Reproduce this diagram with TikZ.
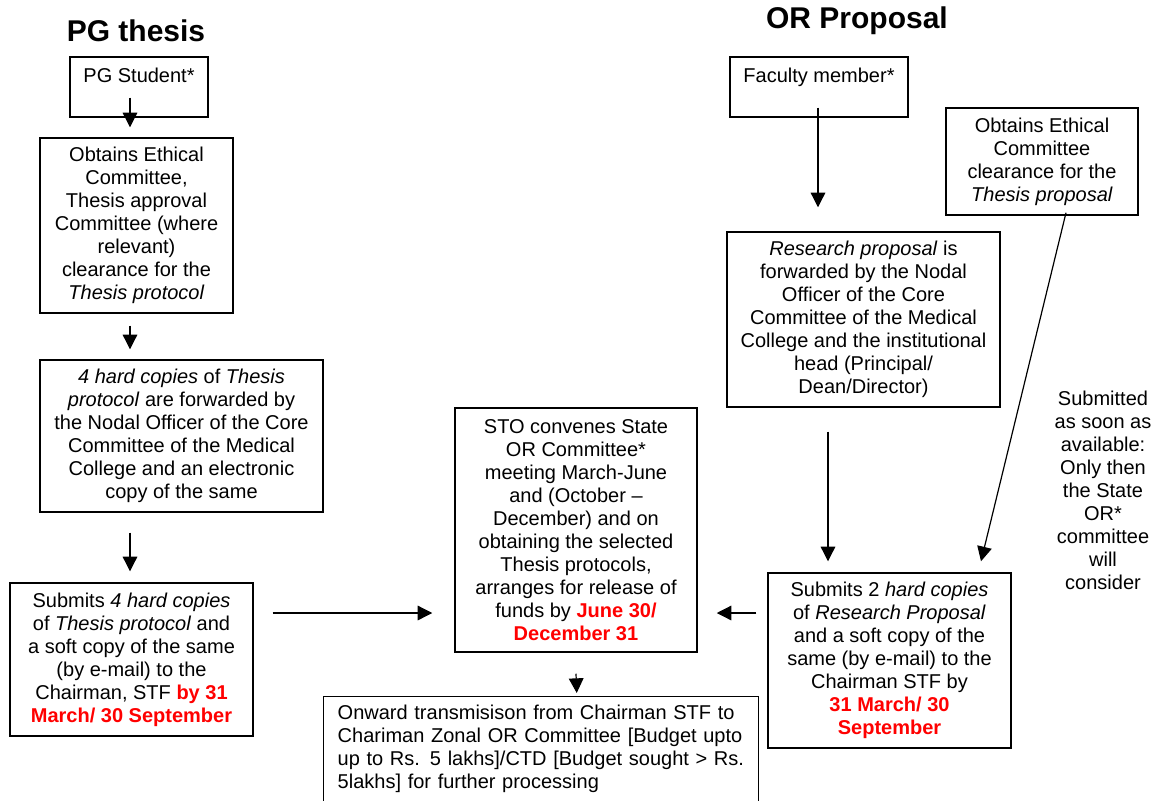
\documentclass[tikz,border=0pt]{standalone}
\usepackage{fontspec}
\setmainfont{Liberation Sans}
\usetikzlibrary{arrows.meta}

\tikzset{
  box/.style={draw,line width=1.1pt,align=center,inner sep=0pt},
  flow/.style={-{Triangle[length=11pt,width=11pt]},line width=0.9pt},
  heading/.style={anchor=base,font=\fontsize{22.5}{27}\selectfont\bfseries},
}
\newcommand{\due}[1]{\textcolor{red}{\textbf{#1}}}

\begin{document}
\begin{tikzpicture}[x=0.75pt,y=-0.75pt,font=\fontsize{15}{17.25}\selectfont]
    \useasboundingbox (0,0) rectangle (1153,800);

    % Column titles
    \node [heading] (pgtitle) at (136,41) {PG thesis};
    \node [heading] (ortitle) at (857,28) {OR Proposal};

    % PG thesis column
    \node [box,minimum width=103.5pt,minimum height=45pt] (pgstu) at (139,87) {PG Student*\\ ~};
    \node [box,minimum width=144.75pt,minimum height=131.25pt] (pgethic) at (136.5,225.5)
        {Obtains Ethical\\ Committee,\\ Thesis approval\\ Committee (where\\ relevant)\\ clearance for the\\ \textit{Thesis protocol}};
    \node [box,minimum width=212.25pt,minimum height=114pt] (pgcopies) at (181.5,436)
        {\textit{4 hard copies} of \textit{Thesis}\\ \textit{protocol} are forwarded by\\ the Nodal Officer of the Core\\ Committee of the Medical\\ College and an electronic\\ copy of the same};
    \node [box,minimum width=182.25pt,minimum height=114.75pt] (pgsubmit) at (131.5,659.5)
        {Submits \textit{4 hard copies}\\ of \textit{Thesis protocol} and\\ a soft copy of the same\\ (by e-mail) to the\\ Chairman, STF \due{by 31}\\ \due{March/ 30 September}};

    % State OR committee and onward step (runs past the page foot)
    \node [box,minimum width=181.5pt,minimum height=183pt] (sto) at (576,530)
        {STO convenes State\\ OR Committee*\\ meeting March-June\\ and (October –\\ December) and on\\ obtaining the selected\\ Thesis protocols,\\ arranges for release of\\ funds by \due{June 30/}\\ \due{December 31}};
    \node [box,anchor=north west,align=left,text width=305.25pt,inner xsep=10.5pt,inner ysep=6pt] (onward) at (323,696)
        {Onward transmisison from Chairman STF to\\ Chariman Zonal OR Committee [Budget upto\\ up to Rs. 5 lakhs]/CTD [Budget sought > Rs.\\ 5lakhs] for further processing\\ ~};

    % OR proposal column
    \node [box,minimum width=133.5pt,minimum height=45pt] (faculty) at (819,87) {Faculty member*\\ ~};
    \node [box,minimum width=144pt,minimum height=80.25pt] (orethic) at (1042,161.5)
        {Obtains Ethical\\ Committee\\ clearance for the\\ \textit{Thesis proposal}};
    \node [box,minimum width=204.75pt,minimum height=131.25pt] (research) at (863.5,319.5)
        {\textit{Research proposal} is\\ forwarded by the Nodal\\ Officer of the Core\\ Committee of the Medical\\ College and the institutional\\ head (Principal/\\ Dean/Director)};
    \node [box,minimum width=182.25pt,minimum height=131.25pt] (orsubmit) at (889.5,660.5)
        {Submits 2 \textit{hard copies}\\ of \textit{Research Proposal}\\ and a soft copy of the\\ same (by e-mail) to the\\ Chairman STF by\\ \due{31 March/ 30}\\ \due{September}};
    \node [align=center] (note) at (1103,490.5)
        {Submitted\\ as soon as\\ available:\\ Only then\\ the State\\ OR*\\ committee\\ will\\ consider};

    % Arrows
    \draw [flow] ([shift={(-9,-20)}]pgstu.south) -- ([shift={(-6.5,-10)}]pgethic.north);
    \draw [flow] ([shift={(-6.5,12)}]pgethic.south) -- ([shift={(-51.5,-10)}]pgcopies.north);
    \draw [flow] ([shift={(-51.5,20)}]pgcopies.south) -- ([shift={(-1.5,-11)}]pgsubmit.north);
    \draw [flow] ([shift={(19,-46.5)}]pgsubmit.east) -- ([shift={(-22,83)}]sto.west);
    \draw [flow] ([shift={(-11,-47.5)}]orsubmit.west) -- ([shift={(19,83)}]sto.east);
    \draw [flow] ([shift={(0,21)}]sto.south) -- ([shift={(35.5,-3)}]onward.north);
    \draw [flow] ([shift={(-1,-10)}]faculty.south) -- ([shift={(-45.5,-24)}]research.north);
    \draw [flow] ([shift={(-35.5,24)}]research.south) -- ([shift={(-61.5,-11)}]orsubmit.north);
    \draw [flow] ([shift={(24,-3)}]orethic.south) -- ([shift={(91.5,-11)}]orsubmit.north);

\end{tikzpicture}
\end{document}
